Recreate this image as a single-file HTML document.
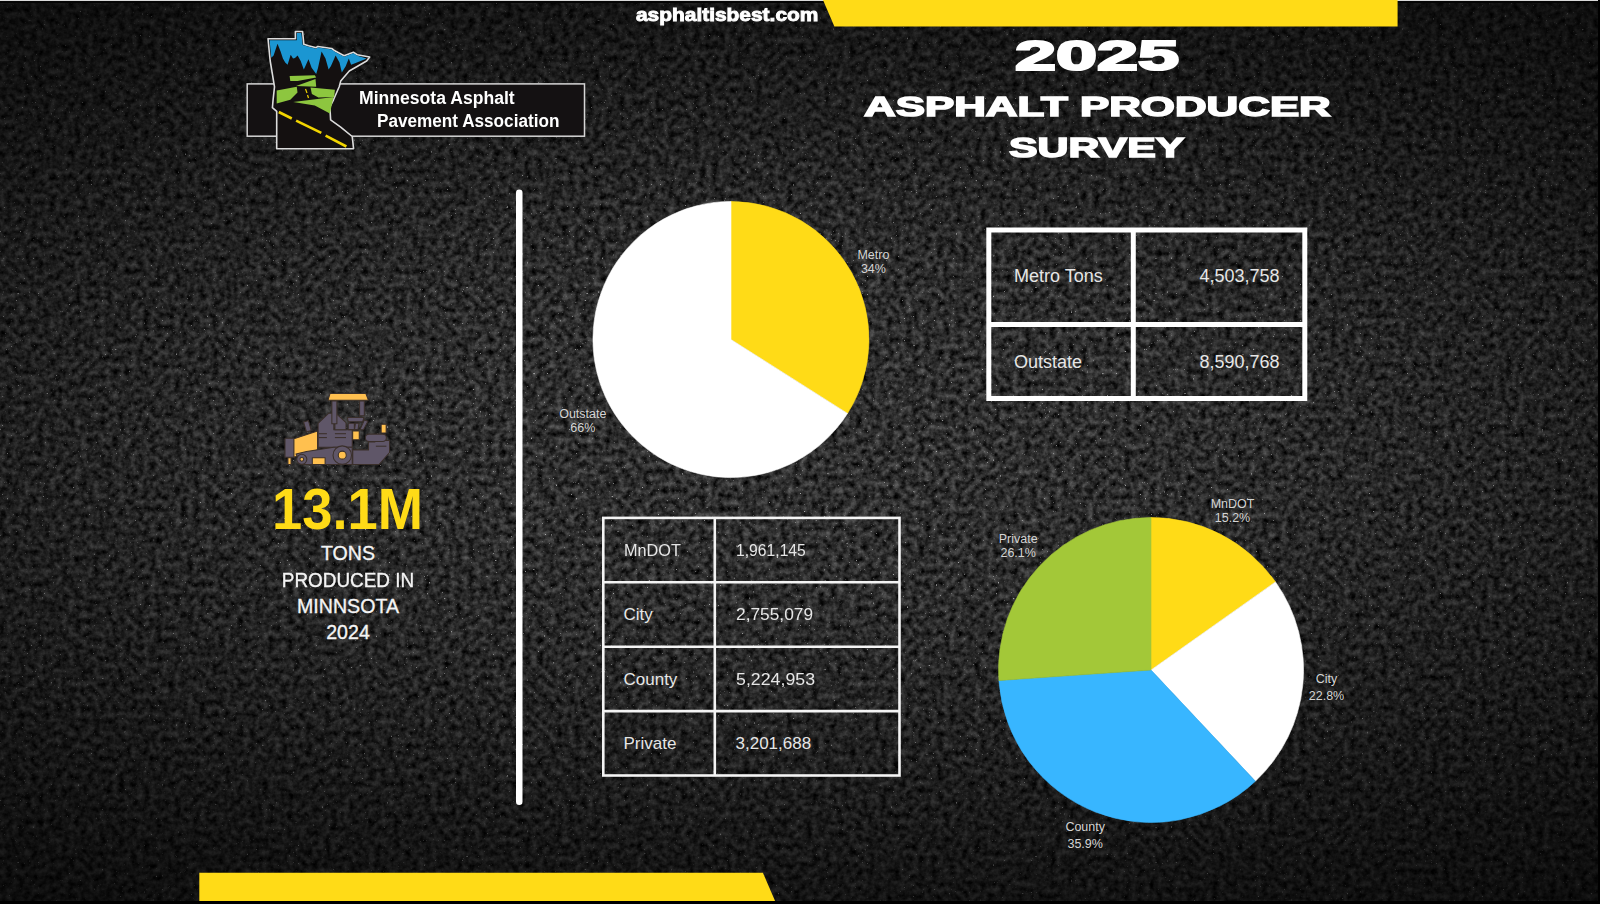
<!DOCTYPE html>
<html><head><meta charset="utf-8">
<style>
html,body{margin:0;padding:0;}
body{width:1600px;height:904px;overflow:hidden;position:relative;background:#1a1a1a;font-family:"Liberation Sans",sans-serif;}
.abs{position:absolute;}
.t{position:absolute;white-space:nowrap;color:#fff;line-height:1;}
.tb{color:#e6e6e6;}
.lb{position:absolute;white-space:nowrap;color:#d4d4d4;font-size:12.5px;text-align:center;width:80px;}
</style></head>
<body>
<svg id="bg" class="abs" style="left:0;top:0" width="1600" height="904" viewBox="0 0 1600 904">
  <defs>
    <radialGradient id="vg" cx="800" cy="436" r="1393" gradientUnits="userSpaceOnUse" gradientTransform="translate(800 436) scale(1 0.411) translate(-800 -436)">
      <stop offset="0" stop-color="#000" stop-opacity="0"/>
      <stop offset="0.143" stop-color="#000" stop-opacity="0.007"/>
      <stop offset="0.286" stop-color="#000" stop-opacity="0.056"/>
      <stop offset="0.429" stop-color="#000" stop-opacity="0.172"/>
      <stop offset="0.571" stop-color="#000" stop-opacity="0.335"/>
      <stop offset="0.714" stop-color="#000" stop-opacity="0.5"/>
      <stop offset="0.857" stop-color="#000" stop-opacity="0.636"/>
      <stop offset="1" stop-color="#000" stop-opacity="0.738"/>
    </radialGradient>
    <filter id="tex" x="0" y="0" width="1600" height="904" filterUnits="userSpaceOnUse" color-interpolation-filters="sRGB">
      <feTurbulence type="fractalNoise" baseFrequency="0.16" numOctaves="3" seed="5" result="n"/>
      <feColorMatrix in="n" type="matrix" values="0.5 0 0 0 -0.07  0.5 0 0 0 -0.07  0.5 0 0 0 -0.07  0 0 0 0 1"/>
    </filter>
    <filter id="speck" x="0" y="0" width="1600" height="904" filterUnits="userSpaceOnUse" color-interpolation-filters="sRGB">
      <feTurbulence type="fractalNoise" baseFrequency="0.45" numOctaves="2" seed="9"/>
      <feColorMatrix type="matrix" values="0 0 0 0 1  0 0 0 0 1  0 0 0 0 1  7 0 0 0 -5.1"/>
    </filter>
  </defs>
  <rect x="0" y="0" width="1600" height="904" filter="url(#tex)"/>
  <rect x="0" y="0" width="1600" height="904" filter="url(#speck)" opacity="0.6"/>
  <rect x="0" y="0" width="1600" height="904" fill="url(#vg)"/>
</svg>

<!-- edges -->
<div class="abs" style="left:0;top:0;width:1598px;height:1.3px;background:#d9d9d9;"></div>
<div class="abs" style="left:0;top:1.3px;width:1598px;height:1.5px;background:#050505;"></div>
<div class="abs" style="left:1598px;top:0;width:2px;height:904px;background:#000;"></div>
<div class="abs" style="left:0;top:901px;width:1600px;height:3px;background:#000;"></div>

<svg id="shapes" class="abs" style="left:0;top:0" width="1600" height="904" viewBox="0 0 1600 904">
  <!-- top yellow bar -->
  <path d="M823 0 L1397.6 0 L1397.6 26.5 L834.4 26.5 Z" fill="#FFDB17"/>
  <!-- bottom yellow bar -->
  <path d="M199.3 872.8 L762.9 872.8 L775.1 901 L199.3 901 Z" fill="#FFDB17"/>
  <!-- vertical line -->
  <rect x="516" y="189.5" width="6.5" height="615.5" rx="3.25" fill="#fff"/>
  <!-- pie 1 -->
  <path d="M731.0 339.5L731.0 201.5A138.0 138.0 0 0 1 847.5 413.4Z" fill="#FFDB17" stroke="#FFDB17" stroke-width="0.6"/>
  <path d="M731.0 339.5L847.5 413.4A138.0 138.0 0 1 1 731.0 201.5Z" fill="#fff" stroke="#fff" stroke-width="0.6"/>
  <!-- pie 2 -->
  <path d="M1151.0 670.0L1151.0 517.5A152.5 152.5 0 0 1 1275.5 581.9Z" fill="#FFDB17" stroke="#FFDB17" stroke-width="0.6"/>
  <path d="M1151.0 670.0L1275.5 581.9A152.5 152.5 0 0 1 1255.4 781.2Z" fill="#fff" stroke="#fff" stroke-width="0.6"/>
  <path d="M1151.0 670.0L1255.4 781.2A152.5 152.5 0 0 1 998.9 680.5Z" fill="#38B6FF" stroke="#38B6FF" stroke-width="0.6"/>
  <path d="M1151.0 670.0L998.9 680.5A152.5 152.5 0 0 1 1151.0 517.5Z" fill="#A3C838" stroke="#A3C838" stroke-width="0.6"/>
  <!-- table 1 -->
  <g fill="none" stroke="#fff" stroke-width="5">
    <rect x="988.8" y="230" width="316" height="168.5"/>
    <line x1="1133.3" y1="230" x2="1133.3" y2="398.5"/>
    <line x1="988.8" y1="324.6" x2="1304.8" y2="324.6"/>
  </g>
  <!-- table 2 -->
  <g fill="none" stroke="#f4f4f4" stroke-width="2.6">
    <rect x="603.3" y="517.9" width="296.2" height="257.6"/>
    <line x1="714.8" y1="517.9" x2="714.8" y2="775.5"/>
    <line x1="603.3" y1="582.3" x2="899.5" y2="582.3"/>
    <line x1="603.3" y1="646.7" x2="899.5" y2="646.7"/>
    <line x1="603.3" y1="711.1" x2="899.5" y2="711.1"/>
  </g>
</svg>

<!-- logo -->
<svg id="logo" class="abs" style="left:0;top:0" width="600" height="160" viewBox="0 0 600 160">
  <rect x="247.2" y="83.9" width="337.3" height="52.3" fill="#141112" stroke="#d6d6d6" stroke-width="1.5"/>
  <path d="M268 38.7 L295.4 38.7 L295.4 31.5 L302.6 31.5 L303.8 44.2 L308.5 45.8 L316.2 47.7 L317.8 46.5 L331.7 48.5 L334.8 50.8 L344.1 55.8 L353.4 52.3 L357.3 54.7 L369.7 57 L366.6 61 L349.3 71 L340.7 81.1 L339.2 86.8 L333.5 99.8 L329.9 107 L330.6 119.9 L340.7 127.1 L352.2 136.5 L353.6 148.7 L276.7 148.7 L276.7 111.3 L272.4 107.7 L273.1 99.8 L274.5 86.8 L270.2 61 Z" fill="#141010" stroke="#dcdcdc" stroke-width="1.6" stroke-linejoin="round"/>
  <path d="M269.6 40.2 L296.8 40.2 L296.8 33 L301.3 33 L302.7 45 L308.5 46.8 L316.2 48.7 L317.8 47.5 L331.7 49.5 L334.8 51.8 L344.1 56.8 L353.4 53.3 L357.3 55.7 L366.5 58.6 L365 59.3 L355 63.2 L351.1 64.7 L348.8 58.5 L345.7 66.3 L341.8 72.5 L339.5 62.4 L335.6 55.4 L331 66 L328.6 69.4 L325.5 58.5 L321.6 51.6 L318 68 L316.2 74 L311.6 67.8 L308.5 59.3 L305 67 L303.8 69.4 L300.7 60.9 L297.6 55.4 L295 58 L293 58.5 L290.7 54.7 L287.6 64.7 L285.2 62.4 L282.9 58.5 L280.6 51.6 L277.5 43.8 L273.6 55.4 L271.3 57.8 Z" fill="#1B96D2"/>
  <g fill="#8DC63F">
    <path d="M289.6 76 L314.8 75.3 L316.2 77.5 L297.5 81.1 L290.3 81.1 Z"/>
    <path d="M296.1 86.1 L315.5 78.9 L316.2 86.8 Z"/>
    <path d="M276.7 90.4 L296.8 86.8 L297.5 92.6 L290.3 99.8 L276.7 103.4 Z"/>
    <path d="M310.5 87.6 L334.9 89.7 L334.2 96.9 L318.4 97.6 L311.9 94 Z"/>
    <path d="M293.2 102 L333.5 96.9 L329.9 113.4 L314.8 105.5 Z"/>
  </g>
  <g stroke="#F2D500" stroke-width="2.6" stroke-linecap="butt">
    <line x1="278.8" y1="112" x2="291.8" y2="118.5"/>
    <line x1="296.1" y1="120.6" x2="321.3" y2="132.9"/>
    <line x1="325.6" y1="135.7" x2="346.4" y2="146.5"/>
    <line x1="305.5" y1="89" x2="307" y2="93" stroke-width="1.2"/>
    <line x1="307.5" y1="95" x2="308.5" y2="98" stroke-width="1.2"/>
  </g>
</svg>
<div id="lg1" class="t" style="left:358.5px;top:89.2px;font-size:18px;font-weight:bold;transform-origin:0 0;transform:scaleX(0.977);">Minnesota Asphalt</div>
<div id="lg2" class="t" style="left:377.2px;top:112.5px;font-size:17.5px;font-weight:bold;transform-origin:0 0;transform:scaleX(0.98);">Pavement Association</div>

<!-- paver icon -->
<svg id="paver" class="abs" style="left:275px;top:380px" width="120" height="95" viewBox="0 0 1142 904">
  <g stroke="#3a2f2a" stroke-width="10" stroke-linejoin="round" fill="#5F5668">
    <line x1="700" y1="115" x2="790" y2="25" stroke-width="6"/>
    <path d="M272 400 L318 385 L345 480 L300 495 Z"/>
    <path d="M410 412 L512 316 L560 316 L560 474 L735 474 L735 640 L410 640 Z"/>
    <path d="M585 322 L676 406 L676 474 L570 474 L570 425 Z"/>
    <rect x="541" y="200" width="48" height="217"/>
    <rect x="805" y="200" width="45" height="140"/>
    <path d="M505 192 L523 129 L865 129 L889 192 Z" fill="#FFC04F"/>
    <path d="M689 356 L847 356 L834 398 L697 398 Z"/>
    <rect x="697" y="411" width="58" height="61"/>
    <path d="M765 411 L800 411 L790 472 L757 472 Z"/>
    <path d="M850 380 L885 392 L842 474 L808 474 Z"/>
    <rect x="95" y="555" width="90" height="180"/>
    <path d="M180 560 L405 485 L405 665 L180 735 Z" fill="#FFC04F"/>
    <path d="M200 705 L300 680 L560 640 L735 640 L735 805 L250 805 Z"/>
    <path d="M740 665 L890 665 L890 590 L950 590 L950 575 L1090 575 L1090 690 L990 805 L740 805 Z"/>
    <rect x="860" y="515" width="200" height="70" rx="35"/>
    <rect x="1010" y="420" width="48" height="85" rx="6" fill="#FFC04F"/>
    <rect x="739" y="485" width="63" height="84" fill="#FFC04F"/>
    <circle cx="255" cy="755" r="48"/>
    <circle cx="255" cy="755" r="18" fill="#FFC04F"/>
    <circle cx="640" cy="715" r="88"/>
    <circle cx="640" cy="715" r="38" fill="#FFC04F"/>
    <rect x="355" y="740" width="122" height="65" fill="#FFC04F"/>
    <rect x="123" y="740" width="30" height="65" fill="#FFC04F"/>
    <line x1="418" y1="511" x2="494" y2="511"/>
    <line x1="418" y1="548" x2="494" y2="548"/>
    <line x1="570" y1="511" x2="676" y2="511"/>
    <line x1="570" y1="548" x2="676" y2="548"/>
    <line x1="960" y1="630" x2="1060" y2="630"/>
  </g>
</svg>

<div id="url" class="t" style="left:636px;top:5.8px;font-size:18.6px;font-weight:bold;-webkit-text-stroke:0.9px #fff;transform-origin:0 0;transform:scaleX(1.124);">asphaltisbest.com</div>

<div id="h1" class="t" style="left:1014.5px;top:34.2px;font-size:43px;font-weight:bold;-webkit-text-stroke:2.2px #fff;transform-origin:0 0;transform:scaleX(1.716);">2025</div>
<div id="h2" class="t" style="left:864.3px;top:93px;font-size:27.8px;font-weight:bold;-webkit-text-stroke:1.5px #fff;transform-origin:0 0;transform:scaleX(1.577);">ASPHALT PRODUCER</div>
<div id="h3" class="t" style="left:1009.3px;top:134px;font-size:27.8px;font-weight:bold;-webkit-text-stroke:1.5px #fff;transform-origin:0 0;transform:scaleX(1.54);">SURVEY</div>

<!-- stats -->
<div id="big" class="t" style="left:271.6px;top:480.1px;font-size:58.2px;font-weight:bold;color:#FFDB17;transform-origin:0 0;transform:scaleX(0.934);">13.1M</div>
<div id="t1" class="t" style="left:248px;width:200px;text-align:center;top:543.5px;font-size:19.6px;-webkit-text-stroke:0.35px #f4f4f4;color:#f4f4f4;">TONS</div>
<div id="t2" class="t" style="left:248px;width:200px;text-align:center;top:570.6px;font-size:19.6px;-webkit-text-stroke:0.35px #f4f4f4;color:#f4f4f4;transform:scaleX(0.965);">PRODUCED IN</div>
<div id="t3" class="t" style="left:248px;width:200px;text-align:center;top:596.7px;font-size:19.6px;-webkit-text-stroke:0.35px #f4f4f4;color:#f4f4f4;">MINNSOTA</div>
<div id="t4" class="t" style="left:248px;width:200px;text-align:center;top:622.5px;font-size:19.6px;-webkit-text-stroke:0.35px #f4f4f4;color:#f4f4f4;">2024</div>

<!-- pie labels -->
<div id="l1" class="lb" style="left:833.4px;top:247.6px;line-height:14.2px;">Metro<br>34%</div>
<div id="l2" class="lb" style="left:542.8px;top:408px;line-height:13.8px;">Outstate<br>66%</div>
<div id="l3" class="lb" style="left:1192.5px;top:496.5px;line-height:14.8px;">MnDOT<br>15.2%</div>
<div id="l4" class="lb" style="left:978.2px;top:531.7px;line-height:14.6px;">Private<br>26.1%</div>
<div id="l5" class="lb" style="left:1286.5px;top:670.9px;line-height:17.1px;">City<br>22.8%</div>
<div id="l6" class="lb" style="left:1045.2px;top:819.3px;line-height:17px;">County<br>35.9%</div>

<!-- table texts -->
<div id="a1" class="t tb" style="left:1014px;top:267.1px;font-size:18px;">Metro Tons</div>
<div id="a2" class="t tb" style="left:1199.5px;top:267.1px;font-size:18px;">4,503,758</div>
<div id="a3" class="t tb" style="left:1014px;top:352.8px;font-size:18px;">Outstate</div>
<div id="a4" class="t tb" style="left:1199.5px;top:352.8px;font-size:18px;">8,590,768</div>

<div id="b1" class="t tb" style="left:623.5px;top:541.8px;font-size:17px;transform-origin:0 0;transform:scaleX(0.957);">MnDOT</div>
<div id="b2" class="t tb" style="left:735.5px;top:541.8px;font-size:17px;transform-origin:0 0;transform:scaleX(0.923);">1,961,145</div>
<div id="b3" class="t tb" style="left:623.5px;top:606.3px;font-size:17px;">City</div>
<div id="b4" class="t tb" style="left:735.5px;top:606.3px;font-size:17px;transform-origin:0 0;transform:scaleX(1.019);">2,755,079</div>
<div id="b5" class="t tb" style="left:623.5px;top:670.8px;font-size:17px;">County</div>
<div id="b6" class="t tb" style="left:735.5px;top:670.8px;font-size:17px;transform-origin:0 0;transform:scaleX(1.045);">5,224,953</div>
<div id="b7" class="t tb" style="left:623.5px;top:735.3px;font-size:17px;">Private</div>
<div id="b8" class="t tb" style="left:735.5px;top:735.3px;font-size:17px;">3,201,688</div>

</body></html>
